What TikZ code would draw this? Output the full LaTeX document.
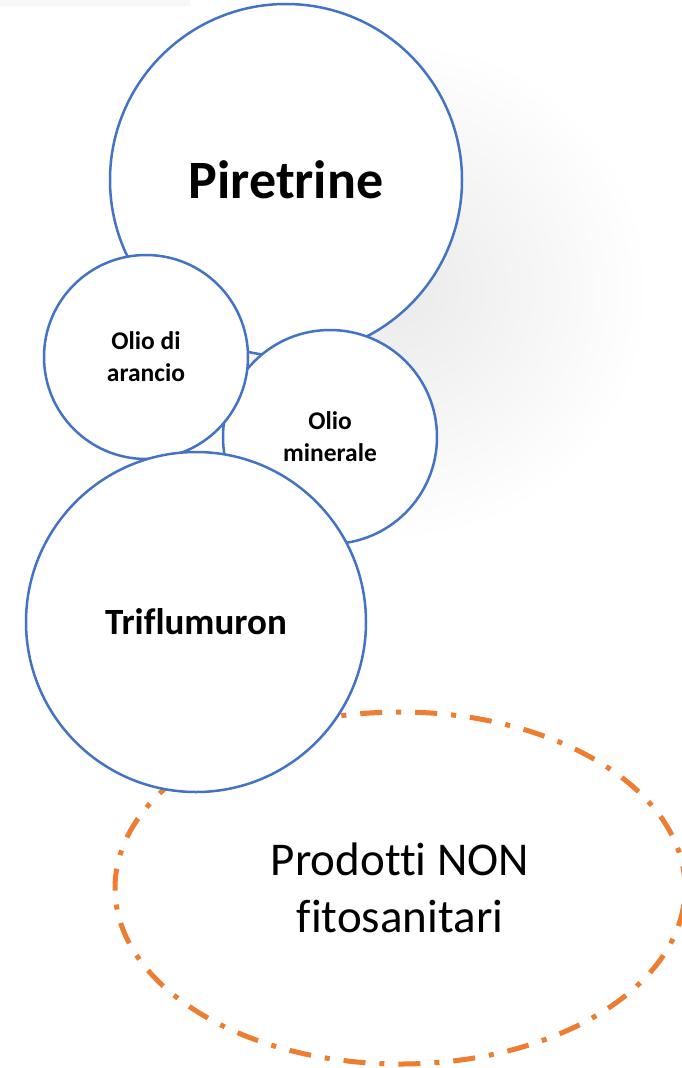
\documentclass[tikz,border=0pt]{standalone}
\usepackage{fontspec}
\setmainfont{Carlito}[Ligatures=NoCommon]
\usepackage{tikz}
\usetikzlibrary{positioning, shapes.geometric}
\definecolor{bubbleblue}{HTML}{4472C4}
\definecolor{dashorange}{HTML}{ED7D31}
\tikzset{every picture/.style={line width=0.75pt}}

\begin{document}
\begin{tikzpicture}[x=1pt,y=-1pt,
  bubble/.style={circle, draw=bubbleblue, line width=2.5pt, fill=white, inner sep=0pt, align=center, font=\bfseries}]
\useasboundingbox (0,0) rectangle (681,1068);
\fill[white] (0,0) rectangle (681,1068);
% soft shadow behind the bubbles
\shade[inner color=black!8, outer color=white] (400,290) circle (250);
\fill[black!3] (0,0) rectangle (190,6);
% group of non plant protection products
\node[ellipse, draw=dashorange, line width=5pt, dash pattern=on 22pt off 14pt on 5pt off 14pt,
  minimum width=570pt, minimum height=352pt, inner sep=0pt, align=center,
  font=\fontsize{47}{57}\selectfont] (prodotti) at (400,888) {Prodotti NON\\fitosanitari};
\node[bubble, minimum size=352pt, font=\bfseries\fontsize{54}{65}\selectfont] (piretrine) at (286,180) {Piretrine};
\node[bubble, minimum size=214pt, font=\bfseries\fontsize{25.5}{32}\selectfont] (minerale) at (330,437) {Olio\\minerale};
\node[bubble, minimum size=204pt, font=\bfseries\fontsize{25.5}{32}\selectfont] (arancio) at (146,357) {Olio di\\arancio};
\node[bubble, minimum size=340pt, font=\bfseries\fontsize{37}{45}\selectfont] (triflumuron) at (196,622) {Triflumuron};
\end{tikzpicture}
\end{document}
